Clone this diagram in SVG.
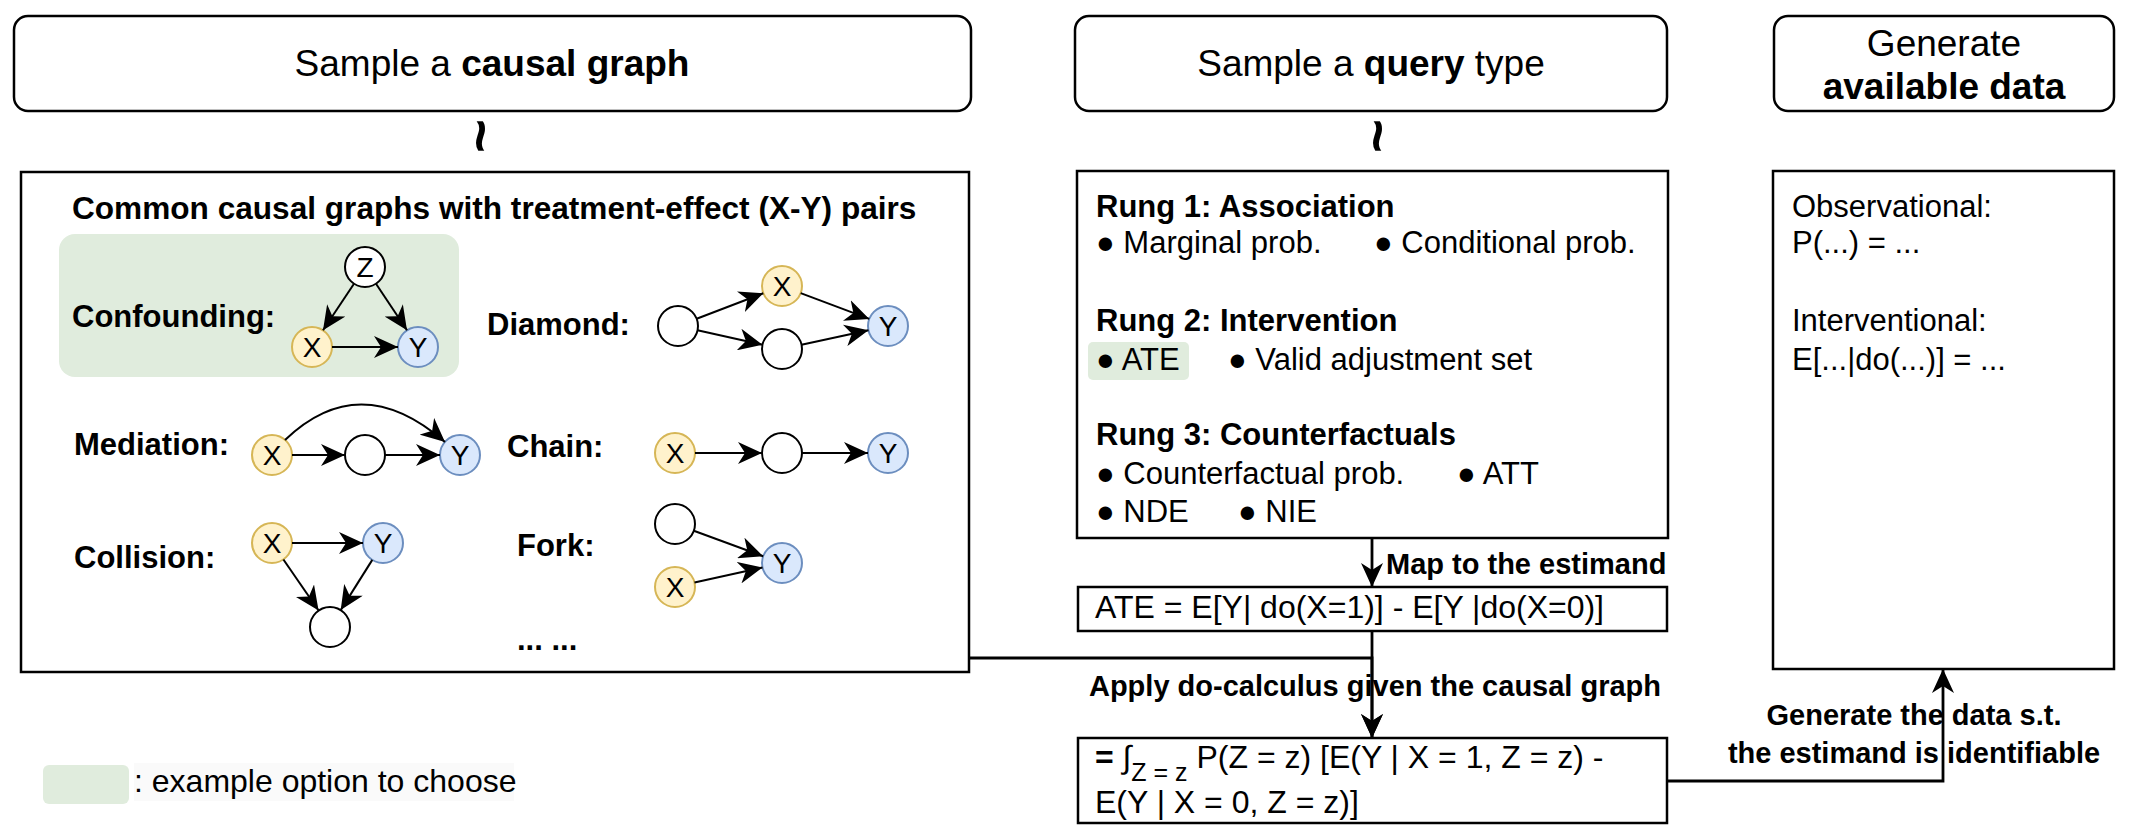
<svg xmlns="http://www.w3.org/2000/svg" width="2136" height="830" viewBox="0 0 2136 830">
<defs>
<style>
text{font-family:"Liberation Sans",Arial,Helvetica,sans-serif;fill:#000}
.b{font-weight:bold}
.top{fill:#fff;stroke:#000;stroke-width:2.5}
.box{fill:#fff;stroke:#000;stroke-width:2.5}
.e{fill:#fff;stroke:#000;stroke-width:2}
.x{fill:#fff2cc;stroke:#d6b656;stroke-width:2}
.y{fill:#dae8fc;stroke:#6c8ebf;stroke-width:2}
.hl{fill:#e0ecdd}
.edge{stroke:#000;stroke-width:2;fill:none;marker-end:url(#arr)}
.flow{stroke:#000;stroke-width:2.8;fill:none}
.fa{marker-end:url(#arr)}
.lbl{font-size:28px}
.g{font-size:31px;font-weight:bold}
.r{font-size:31px}
.h{font-size:37px}
.c{font-size:29px;font-weight:bold}
.f{font-size:32px}
</style>
<marker id="arr" markerUnits="userSpaceOnUse" markerWidth="24" markerHeight="22" refX="24" refY="11" orient="auto" viewBox="0 0 24 22">
<path d="M0,0 L24,11 L0,22 L7,11 Z" fill="#000"/>
</marker>
</defs>
<rect width="2136" height="830" fill="#fff"/>

<g id="sample-graph">
<rect class="top" x="14" y="16" width="957" height="95" rx="14"/>
<text class="h" x="492" y="76" text-anchor="middle">Sample a <tspan class="b">causal graph</tspan></text>
</g>
<g id="sample-query">
<rect class="top" x="1075" y="16" width="592" height="95" rx="14"/>
<text class="h" x="1371" y="76" text-anchor="middle">Sample a <tspan class="b">query</tspan> type</text>
</g>
<g id="generate-data">
<rect class="top" x="1774" y="16" width="340" height="95" rx="14"/>
<text class="h" x="1944" y="56" text-anchor="middle">Generate</text>
<text class="h b" x="1944" y="99" text-anchor="middle">available data</text>
</g>
<g id="tilde1"><text class="b" font-size="58" x="0" y="19" text-anchor="middle" transform="translate(481,136) rotate(-90)">~</text></g>
<g id="tilde2"><text class="b" font-size="58" x="0" y="19" text-anchor="middle" transform="translate(1378,136) rotate(-90)">~</text></g>

<g id="graphs-box">
<rect class="box" x="21" y="172" width="948" height="500"/>
<text x="72" y="219" font-size="31.6" class="b">Common causal graphs with treatment-effect (X-Y) pairs</text>
<rect class="hl" x="59" y="234" width="400" height="143" rx="16"/>
<text class="g" x="72" y="327">Confounding:</text>
<text class="g" x="487" y="335">Diamond:</text>
<text class="g" x="74" y="455">Mediation:</text>
<text class="g" x="507" y="457">Chain:</text>
<text class="g" x="74" y="568">Collision:</text>
<text class="g" x="517" y="556">Fork:</text>
<text class="g" x="517" y="650">... ...</text>
</g>

<g id="conf-z"><circle class="e" cx="365" cy="267" r="20"/><text class="lbl" x="365" y="277" text-anchor="middle">Z</text></g>
<g id="conf-x"><circle class="x" cx="312" cy="347" r="20"/><text class="lbl" x="312" y="357" text-anchor="middle">X</text></g>
<g id="conf-y"><circle class="y" cx="418" cy="347" r="20"/><text class="lbl" x="418" y="357" text-anchor="middle">Y</text></g>

<g id="dia-l"><circle class="e" cx="678" cy="326" r="20"/></g>
<g id="dia-x"><circle class="x" cx="782" cy="286" r="20"/><text class="lbl" x="782" y="296" text-anchor="middle">X</text></g>
<g id="dia-b"><circle class="e" cx="782" cy="349" r="20"/></g>
<g id="dia-y"><circle class="y" cx="888" cy="326" r="20"/><text class="lbl" x="888" y="336" text-anchor="middle">Y</text></g>

<g id="med-x"><circle class="x" cx="272" cy="455" r="20"/><text class="lbl" x="272" y="465" text-anchor="middle">X</text></g>
<g id="med-m"><circle class="e" cx="365" cy="455" r="20"/></g>
<g id="med-y"><circle class="y" cx="460" cy="455" r="20"/><text class="lbl" x="460" y="465" text-anchor="middle">Y</text></g>

<g id="chain-x"><circle class="x" cx="675" cy="453" r="20"/><text class="lbl" x="675" y="463" text-anchor="middle">X</text></g>
<g id="chain-m"><circle class="e" cx="782" cy="453" r="20"/></g>
<g id="chain-y"><circle class="y" cx="888" cy="453" r="20"/><text class="lbl" x="888" y="463" text-anchor="middle">Y</text></g>

<g id="col-x"><circle class="x" cx="272" cy="543" r="20"/><text class="lbl" x="272" y="553" text-anchor="middle">X</text></g>
<g id="col-y"><circle class="y" cx="383" cy="543" r="20"/><text class="lbl" x="383" y="553" text-anchor="middle">Y</text></g>
<g id="col-c"><circle class="e" cx="330" cy="627" r="20"/></g>

<g id="fork-e"><circle class="e" cx="675" cy="524" r="20"/></g>
<g id="fork-x"><circle class="x" cx="675" cy="587" r="20"/><text class="lbl" x="675" y="597" text-anchor="middle">X</text></g>
<g id="fork-y"><circle class="y" cx="782" cy="563" r="20"/><text class="lbl" x="782" y="573" text-anchor="middle">Y</text></g>

<g id="query-box">
<rect class="box" x="1077" y="171" width="591" height="367"/>
<text class="r" y="217"><tspan class="b" x="1096">Rung 1: Association</tspan></text>
<text class="r" y="253"><tspan x="1096">● Marginal prob.</tspan><tspan x="1374">● Conditional prob.</tspan></text>
<text class="r" y="331"><tspan class="b" x="1096">Rung 2: Intervention</tspan></text>
<rect class="hl" x="1088" y="342" width="101" height="38" rx="5"/>
<text class="r" y="370"><tspan x="1096">● ATE</tspan><tspan x="1228">● Valid adjustment set</tspan></text>
<text class="r" y="445"><tspan class="b" x="1096">Rung 3: Counterfactuals</tspan></text>
<text class="r" y="484"><tspan x="1096">● Counterfactual prob.</tspan><tspan x="1457">● ATT</tspan></text>
<text class="r" y="522"><tspan x="1096">● NDE</tspan><tspan x="1238">● NIE</tspan></text>
</g>

<g id="ate-box">
<rect class="box" x="1078" y="587" width="589" height="44"/>
<text class="f" x="1095" y="618">ATE = E[Y| do(X=1)] - E[Y |do(X=0)]</text>
</g>

<g id="formula-box">
<rect class="box" x="1078" y="738" width="589" height="85"/>
<text class="f" x="1095" y="768"><tspan class="b">=</tspan> ∫<tspan font-size="25" dy="13">Z = z</tspan><tspan dy="-13"> P(Z = z) [E(Y | X = 1, Z = z) -</tspan></text>
<text class="f" x="1095" y="813">E(Y | X = 0, Z = z)]</text>
</g>

<g id="data-box">
<rect class="box" x="1773" y="171" width="341" height="498"/>
<text class="r" x="1792" y="217">Observational:</text>
<text class="r" x="1792" y="253">P(...) = ...</text>
<text class="r" x="1792" y="331">Interventional:</text>
<text class="r" x="1792" y="370">E[...|do(...)] = ...</text>
</g>

<g id="legend">
<rect class="hl" x="43" y="765" width="86" height="39" rx="6"/>
<rect x="134" y="763" width="380" height="38" fill="#fafafa"/>
<text x="134" y="792" font-size="32">: example option to choose</text>
</g>

<g id="connectors">
<line class="edge" x1="354" y1="283.7" x2="323" y2="330.3"/>
<line class="edge" x1="376" y1="283.7" x2="407" y2="330.3"/>
<line class="edge" x1="332" y1="347" x2="398" y2="347"/>

<line class="edge" x1="696.7" y1="318.8" x2="763.3" y2="293.2"/>
<line class="edge" x1="697.5" y1="330.3" x2="762.5" y2="344.7"/>
<line class="edge" x1="800.7" y1="293.1" x2="869.3" y2="318.9"/>
<line class="edge" x1="801.5" y1="344.8" x2="868.5" y2="330.2"/>

<line class="edge" x1="292" y1="455" x2="345" y2="455"/>
<line class="edge" x1="385" y1="455" x2="440" y2="455"/>
<path class="edge" d="M285,440 Q360,368 445,442"/>

<line class="edge" x1="695" y1="453" x2="762" y2="453"/>
<line class="edge" x1="802" y1="453" x2="868" y2="453"/>

<line class="edge" x1="292" y1="543" x2="363" y2="543"/>
<line class="edge" x1="283.4" y1="559.5" x2="318.6" y2="610.5"/>
<line class="edge" x1="372.3" y1="559.9" x2="340.7" y2="610.1"/>

<line class="edge" x1="693.8" y1="530.8" x2="763.2" y2="556.2"/>
<line class="edge" x1="694.5" y1="582.6" x2="762.5" y2="567.4"/>

<path class="flow fa" d="M1372,538 L1372,587"/>
<path class="flow fa" d="M1372,631 L1372,738"/>
<path class="flow fa" d="M969,658 L1372,658 L1372,738"/>
<path class="flow fa" d="M1667,781 L1943,781 L1943,669"/>
<text class="c" x="1386" y="574">Map to the estimand</text>
<text class="c" x="1375" y="696" text-anchor="middle">Apply do-calculus given the causal graph</text>
<text class="c" x="1914" y="725" text-anchor="middle">Generate the data s.t.</text>
<text class="c" x="1914" y="763" text-anchor="middle">the estimand is identifiable</text>
</g>
</svg>
